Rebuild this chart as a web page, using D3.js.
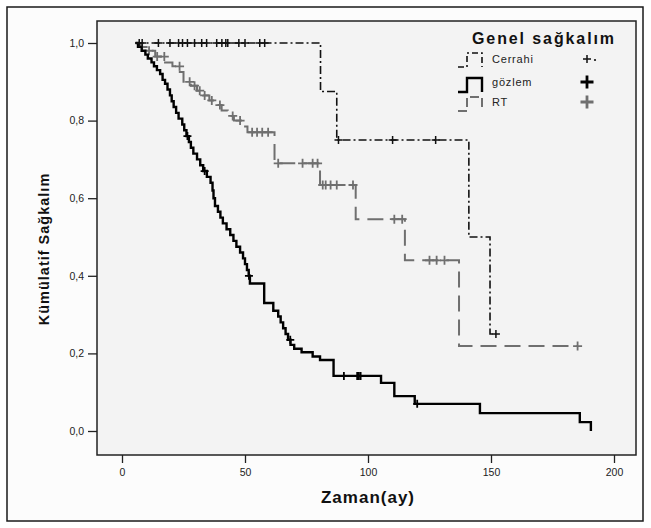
<!DOCTYPE html>
<html>
<head>
<meta charset="utf-8">
<script src="https://cdn.jsdelivr.net/npm/d3@7"></script>
<style>
  body { margin: 0; background: #ffffff; }
  svg { display: block; }
  text { font-family: "Liberation Sans", Arial, sans-serif; }
</style>
</head>
<body>
<svg id="chart" width="651" height="528"></svg>
<script>
// Kaplan–Meier survival steps: [time (months), cumulative survival after the event]
const cerrahiSteps = [[5.5, 1.0], [80.7, 0.875], [87.3, 0.75], [141, 0.5], [149.6, 0.25]];
const cerrahiEnd = 152;
const cerrahiCensored = [7.0, 8.2, 14.8, 19.5, 23.0, 24.6, 26.6, 29.5, 32.4, 34.4, 38.5, 40.6, 42.2, 43.0,
  47.5, 50.0, 56.0, 58.0, 88.0, 110.0, 127.5, 152.0];

const gozlemSteps = [[5.5, 1.0], [6.5, 0.99], [8, 0.98], [9.5, 0.97], [10.5, 0.96], [12, 0.95], [13, 0.94],
  [14.2, 0.93], [15.5, 0.92], [16.5, 0.905], [17.5, 0.895], [18.5, 0.88], [19.5, 0.865], [20.2, 0.85],
  [21, 0.835], [22, 0.82], [23, 0.805], [24.5, 0.79], [25.3, 0.775], [26.2, 0.76], [27.2, 0.745], [28, 0.73],
  [29, 0.715], [30.5, 0.7], [31.8, 0.685], [33, 0.67], [34.5, 0.655], [36, 0.64], [36.8, 0.62], [37.2, 0.6],
  [37.8, 0.58], [39, 0.565], [40, 0.55], [41, 0.535], [42.5, 0.52], [44, 0.505], [45.3, 0.49], [46.5, 0.475],
  [48, 0.46], [49.2, 0.445], [50, 0.43], [50.8, 0.415], [51.5, 0.4], [52, 0.38], [57.8, 0.33], [61.5, 0.31],
  [63.5, 0.295], [64.5, 0.28], [65.5, 0.265], [66.5, 0.25], [67.5, 0.235], [68.5, 0.222], [70, 0.212],
  [73, 0.203], [77.5, 0.192], [80.5, 0.183], [86, 0.142], [105.3, 0.124], [110.7, 0.09], [119, 0.07],
  [145.5, 0.046], [186.1, 0.023], [190.6, 0.0]];
const gozlemEnd = 190.6;
const gozlemCensored = [26.6, 33.6, 51.6, 68.4, 90.2, 95.6, 96.3, 97.0, 120.0];

const rtSteps = [[5.5, 1.0], [7.5, 0.99], [10, 0.98], [13.5, 0.965], [17.5, 0.95], [20.5, 0.94], [23.5, 0.925],
  [25, 0.9], [28, 0.89], [30.5, 0.877], [33, 0.865], [35.5, 0.852], [38, 0.84], [40.5, 0.826], [43, 0.812],
  [45.5, 0.8], [49.5, 0.785], [51, 0.77], [62, 0.69], [80.5, 0.634], [95, 0.546], [115, 0.44], [137, 0.219]];
const rtEnd = 185.2;
const rtCensored = [8.2, 11, 14.3, 17.2, 23.4, 27.5, 29.5, 31.6, 33.6, 36.5, 39.8, 45, 48, 52.9, 54.9, 57, 59.4,
  63.5, 73.4, 77.5, 79.5, 81.6, 82.8, 84.8, 87.3, 93.9, 110.7, 113.9, 125, 127.9, 131.1, 185.2];

const groupNames = ["Cerrahi", "gözlem", "RT"];
const xTicks = [0, 50, 100, 150, 200];
const yTicks = [0, 0.2, 0.4, 0.6, 0.8, 1.0];
const legendTitle = "Genel sağkalım";
const xTitle = "Zaman(ay)";
const yTitle = "Kümülatif Sağkalım";

const svg = d3.select("#chart");
const frame = { left: 97, top: 21, right: 636, bottom: 455 };

// outer figure frame
svg.append("rect").attr("x", 7).attr("y", 7).attr("width", 636).attr("height", 514)
  .attr("fill", "#fcfcfc").attr("stroke", "#1a1a1a").attr("stroke-width", 1.5);
// plot frame
svg.append("rect").attr("x", frame.left).attr("y", frame.top)
  .attr("width", frame.right - frame.left).attr("height", frame.bottom - frame.top)
  .attr("fill", "#f3f3f3").attr("stroke", "#222").attr("stroke-width", 1.5);

const x = d3.scaleLinear().domain([0, 200]).range([122, 614]);
const y = d3.scaleLinear().domain([0, 1]).range([431, 43]);

const fmt = d => d3.format(".1f")(d).replace(".", ",");

svg.append("g").attr("transform", `translate(${frame.left},0)`)
  .call(d3.axisLeft(y).tickValues(yTicks).tickFormat(fmt).tickSize(9).tickPadding(4))
  .call(g => g.select(".domain").remove())
  .call(g => g.selectAll("line").attr("stroke", "#222").attr("stroke-width", 1.3))
  .call(g => g.selectAll("text").attr("font-family", "Liberation Sans, Arial, sans-serif")
    .attr("font-size", 10.5).attr("fill", "#222"));

svg.append("g").attr("transform", `translate(0,${frame.bottom})`)
  .call(d3.axisBottom(x).tickValues(xTicks).tickFormat(d3.format("d")).tickSize(8).tickPadding(6))
  .call(g => g.select(".domain").remove())
  .call(g => g.selectAll("line").attr("stroke", "#222").attr("stroke-width", 1.3))
  .call(g => g.selectAll("text").attr("font-family", "Liberation Sans, Arial, sans-serif")
    .attr("font-size", 10.5).attr("fill", "#222"));

// axis titles
svg.append("text").attr("x", 368).attr("y", 503).attr("text-anchor", "middle")
  .attr("font-size", 17).attr("font-weight", "bold").attr("letter-spacing", 1).attr("fill", "#111")
  .text(xTitle);
svg.append("text").attr("transform", "translate(49,249) rotate(-90)").attr("text-anchor", "middle")
  .attr("font-size", 14.5).attr("font-weight", "bold").attr("letter-spacing", 1).attr("fill", "#111")
  .text(yTitle);

const series = [
  { name: groupNames[2], steps: rtSteps, end: rtEnd, cens: rtCensored, color: "#6f6f6f", width: 2, dash: "16,8", mark: 4.5, markW: 1.8 },
  { name: groupNames[1], steps: gozlemSteps, end: gozlemEnd, cens: gozlemCensored, color: "#000", width: 2.4, dash: null, mark: 4, markW: 1.8 },
  { name: groupNames[0], steps: cerrahiSteps, end: cerrahiEnd, cens: cerrahiCensored, color: "#111", width: 1.6, dash: "8,3,2,3", mark: 4, markW: 1.5 }
];

const survAt = (steps, t) => {
  let s = steps[0][1];
  for (const [ti, si] of steps) if (ti <= t) s = si;
  return s;
};

const stepLine = d3.line().x(d => x(d[0])).y(d => y(d[1])).curve(d3.curveStepAfter);
const plus = (w, h) => `M${-w},0H${w}M0,${-h}V${h}`;

series.forEach(s => {
  const pts = s.steps.concat([[s.end, s.steps[s.steps.length - 1][1]]]);
  svg.append("path").attr("d", stepLine(pts)).attr("fill", "none")
    .attr("stroke", s.color).attr("stroke-width", s.width)
    .attr("stroke-dasharray", s.dash);
  svg.append("g").selectAll("path").data(s.cens).join("path")
    .attr("transform", t => `translate(${x(t)},${y(survAt(s.steps, t))})`)
    .attr("d", plus(s.mark, s.mark)).attr("fill", "none")
    .attr("stroke", s.color).attr("stroke-width", s.markW);
});

// legend
const lg = svg.append("g");
lg.append("text").attr("x", 472).attr("y", 44).attr("font-size", 16).attr("font-weight", "bold")
  .attr("letter-spacing", 1.9).attr("fill", "#111").text(legendTitle);

const legendRows = [
  { s: series[2], ty: 63, top: 53, bottom: 67, markSize: 4, markW: 1.5 },
  { s: series[1], ty: 86, top: 78, bottom: 92, markSize: 6.5, markW: 2.8 },
  { s: series[0], ty: 106, top: 97, bottom: 111, markSize: 6.5, markW: 2.8 }
];
legendRows.forEach(r => {
  lg.append("path").attr("d", `M458,${r.bottom}H467V${r.top}H482V${r.bottom}`)
    .attr("fill", "none").attr("stroke", r.s.color).attr("stroke-width", r.s.width)
    .attr("stroke-dasharray", r.s.dash ? (r.s.name === "RT" ? "9,4" : "6,3,2,3") : null);
  lg.append("text").attr("x", 492).attr("y", r.ty).attr("font-size", 11).attr("letter-spacing", 0.8)
    .attr("fill", "#222").text(r.s.name);
  lg.append("path").attr("transform", `translate(587,${r.ty - 4})`)
    .attr("d", plus(r.markSize, r.markSize)).attr("fill", "none")
    .attr("stroke", r.s.color).attr("stroke-width", r.markW);
});
lg.append("circle").attr("cx", 595).attr("cy", 60).attr("r", 1.1).attr("fill", "#111");
</script>
</body>
</html>
